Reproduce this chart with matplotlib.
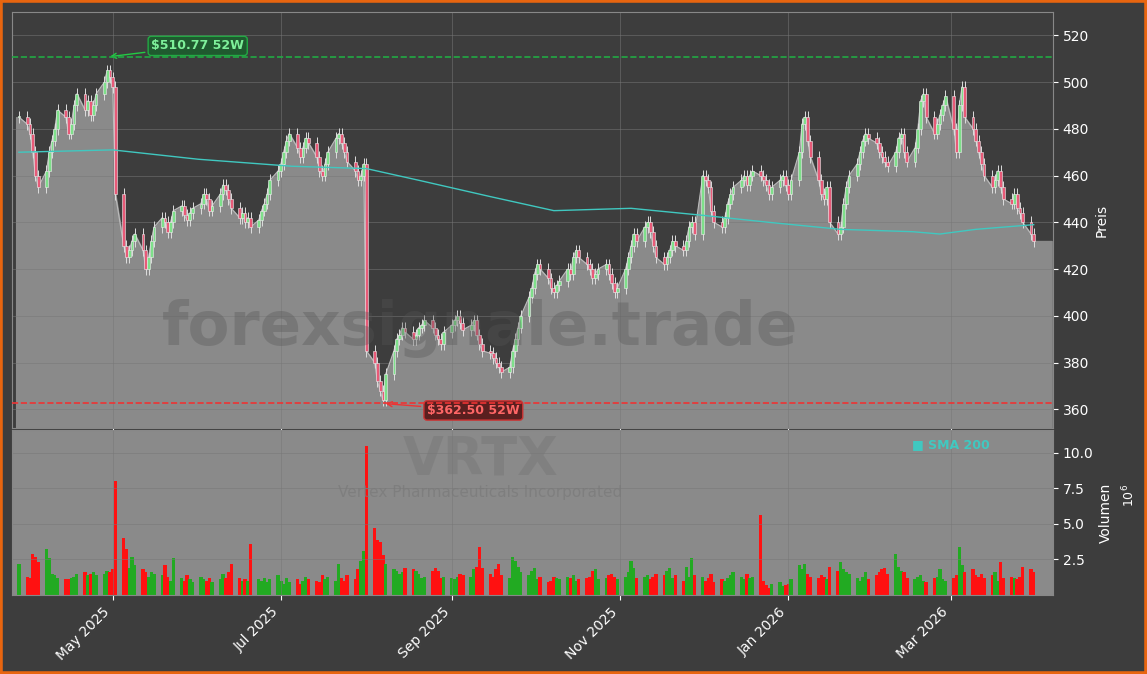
import matplotlib
matplotlib.use("Agg")
import matplotlib.pyplot as plt
import matplotlib.dates as mdates
import numpy as np
import pandas as pd

closes = [485,482,
 478,470,460,455,462,470,475,480,488,485,478,482,490,495,488,492,486,490,495,500,505,502,
 498,452,430,425,428,432,435,428,420,425,432,438,442,440,436,440,445,447,443,441,444,446,
 448,452,450,445,447,452,456,454,450,446,442,444,440,442,438,441,445,448,452,458,462,
 465,470,475,478,472,468,472,476,474,468,462,460,465,470,476,478,474,470,466,462,458,460,465,
 385,380,372,368,364,375,385,390,392,395,393,390,392,395,396,398,395,392,390,388,393,
 396,398,400,397,394,396,398,392,388,385,384,382,380,378,376,378,385,390,395,400,408,412,
 418,422,420,416,412,410,413,415,420,418,425,428,425,422,420,416,418,420,422,418,414,410,412,
 420,425,430,435,432,438,440,436,430,425,422,425,428,432,430,428,432,438,440,435,
 460,458,455,445,440,438,442,448,452,455,458,460,456,460,462,460,458,456,452,455,458,460,456,
 452,458,470,482,485,475,468,458,452,450,455,440,435,438,448,455,460,465,470,475,478,476,
 474,470,468,466,464,470,476,478,470,466,472,480,492,495,485,478,482,486,490,494,
 480,470,490,498,485,480,475,470,465,460,455,458,462,455,450,448,452,446,444,440,435,432]

volumes = [2.2,1.3,
 1.2,2.9,2.7,2.3,3.2,2.6,1.5,1.4,1.2,1.1,1.1,1.2,1.3,1.5,1.6,1.4,1.5,1.6,1.4,1.5,1.7,1.6,
 1.8,8.0,4.0,3.2,1.9,2.7,2.1,1.8,1.6,1.3,1.6,1.5,1.4,2.1,1.3,1.0,2.6,1.2,1.0,1.4,1.1,0.9,
 1.3,1.1,1.0,1.2,0.9,1.1,1.5,1.2,1.6,2.2,1.2,1.0,1.1,1.0,3.6,1.1,1.0,1.2,0.9,1.1,1.4,
 1.0,0.8,1.2,0.9,1.1,0.8,1.0,1.3,1.1,1.0,0.9,1.4,1.1,1.3,1.0,2.2,1.2,1.0,1.4,1.1,1.8,2.4,3.1,
 10.5,4.7,3.9,3.7,2.8,2.2,1.8,1.7,1.5,1.6,1.9,1.8,1.7,1.5,1.2,1.3,1.7,1.9,1.7,1.2,1.3,
 1.2,1.1,1.3,1.5,1.4,1.3,1.8,2.0,3.4,1.9,1.5,1.3,1.8,2.2,1.4,1.2,2.7,2.4,2.0,1.6,1.4,1.7,
 1.9,1.1,1.3,0.9,1.0,1.3,1.2,1.1,1.3,1.2,1.4,1.0,1.1,1.2,1.3,1.7,1.8,1.1,1.2,1.4,1.5,1.3,1.1,
 1.3,1.6,2.4,1.9,1.2,1.3,1.4,1.1,1.3,1.5,1.4,1.7,1.9,1.2,1.4,1.0,2.0,1.3,2.6,1.4,
 1.3,1.0,1.2,1.5,0.9,1.1,1.0,1.2,1.4,1.6,1.3,1.1,1.5,1.2,1.3,5.6,1.0,0.7,0.5,0.8,0.9,0.6,0.7,
 0.8,1.1,2.1,1.8,2.2,1.5,1.3,1.2,1.4,1.3,1.1,2.0,1.7,2.3,1.8,1.6,1.5,1.2,1.0,1.3,1.6,1.1,
 1.4,1.6,1.8,1.9,1.5,2.9,2.0,1.7,1.6,1.2,1.1,1.3,1.4,1.0,0.9,1.2,1.3,1.8,1.1,1.0,
 1.2,1.4,3.4,2.1,1.6,1.8,1.4,1.3,1.5,1.2,1.4,1.6,1.0,2.3,1.2,1.3,1.2,1.1,1.3,2.0,1.8,1.6]

sma_dates = ["2025-03-28","2025-05-01","2025-06-01","2025-07-05","2025-08-01","2025-08-20",
             "2025-09-15","2025-10-08","2025-11-05","2025-12-01","2025-12-25","2026-01-20",
             "2026-02-15","2026-02-25","2026-03-10","2026-03-31"]
sma_vals = [470,471,467,464,463,458,451,445,446,443,440,437,436,435,437,439]

hi52, lo52 = 510.77, 362.50

dates = pd.bdate_range("2025-03-28", periods=len(closes))
c = np.array(closes, float)
o = np.concatenate([[c[0]], c[:-1]])
up = c >= o
x = mdates.date2num(dates)

BG = "#3d3d3d"
fig = plt.figure(figsize=(11.47, 6.74), dpi=100, facecolor=BG)
fig.patches.append(plt.Rectangle((0, 0), 1, 1, transform=fig.transFigure, fill=False,
                                 edgecolor="#e8650f", linewidth=4))
W, H = 1147, 674
ax = fig.add_axes([12/W, (H-428)/H, 1041/W, 416/H], facecolor=BG)
av = fig.add_axes([12/W, (H-595)/H, 1041/W, 165/H], facecolor="#8a8a8a", sharex=ax)

xstart = mdates.date2num(pd.Timestamp("2025-03-27"))
xend = mdates.date2num(pd.Timestamp("2026-04-07"))
ax.fill_between(np.concatenate([[xstart], x, [x[-1]+2, xend-0.5]]),
                np.concatenate([[c[0]], c, [c[-1], c[-1]]]), 352,
                color="#8a8a8a", zorder=1)
ax.plot(x, c, color="#bbbbbb", lw=0.8, zorder=2)
for xi, oi, ci, u in zip(x, o, c, up):
    col = "#7ee08a" if u else "#e85a78"
    lo, hi = min(oi, ci), max(oi, ci)
    ax.vlines(xi, lo-2.5, hi+2.5, color="#dddddd", lw=0.7, zorder=3)
    ax.bar(xi, max(hi-lo, 0.6), bottom=lo, width=1.0, color=col, edgecolor="#eeeeee",
           lw=0.4, zorder=4)
ax.plot(mdates.date2num(pd.to_datetime(sma_dates)), sma_vals, color="#40c8c0", lw=1, zorder=5)
ax.axhline(hi52, color="#22aa44", ls="--", lw=1.2, zorder=5)
ax.axhline(lo52, color="#ee3333", ls="--", lw=1.2, zorder=5)
ihi = int(np.argmax(c)); ilo = int(np.argmin(c))
ax.annotate(f"${hi52:.2f} 52W", xy=(x[ihi], hi52), xytext=(x[ihi]+16, 514),
            color="#7ef09a", fontsize=9, fontweight="bold",
            bbox=dict(boxstyle="round,pad=0.25", fc="#1f5a2f", ec="#22aa44"),
            arrowprops=dict(arrowstyle="->", color="#22cc44"))
ax.annotate(f"${lo52:.2f} 52W", xy=(x[ilo], lo52), xytext=(x[ilo]+16, 358),
            color="#ff6666", fontsize=9, fontweight="bold",
            bbox=dict(boxstyle="round,pad=0.25", fc="#5a1f1f", ec="#cc3333"),
            arrowprops=dict(arrowstyle="->", color="#ee3333"))
ax.set_ylim(352, 530)
ax.set_xlim(xstart - 1.5, xend)
ax.text(0.45, 0.24, "forexsignale.trade", transform=ax.transAxes, ha="center", va="center",
        fontsize=44, fontweight="bold", color="#555555", alpha=0.35, zorder=6)

vc = ["#22aa22" if u else "#ff1111" for u in up]
av.bar(x, volumes, width=1.2, color=vc)
av.set_ylim(0, 11.6)
av.text(0.45, 0.82, "VRTX", transform=av.transAxes, ha="center", va="center",
        fontsize=38, fontweight="bold", color="#777777", alpha=0.5)
av.text(0.45, 0.62, "Vertex Pharmaceuticals Incorporated", transform=av.transAxes,
        ha="center", va="center", fontsize=11, color="#7a7a7a", alpha=0.7)
av.text(0.865, 0.95, "■ SMA 200", transform=av.transAxes, color="#40c8c0", fontsize=9,
        fontweight="bold", va="top")

for a in (ax, av):
    a.yaxis.tick_right(); a.yaxis.set_label_position("right")
    a.grid(True, color="#777777", lw=0.6, alpha=0.6)
    a.tick_params(colors="white", labelsize=10)
    for s in a.spines.values():
        s.set_color("#888888")
ax.set_ylabel("Preis", color="white")
av.set_ylabel("Volumen", color="white")
av.set_yticks([2.5, 5, 7.5, 10])
av.set_yticklabels(["2.5", "5.0", "7.5", "10.0"])
av.text(1.065, 0.55, r"$10^6$", transform=av.transAxes, color="white", rotation=90, fontsize=9)
plt.setp(ax.get_xticklabels(), visible=False)
av.xaxis.set_major_locator(mdates.MonthLocator(bymonth=[1, 3, 5, 7, 9, 11]))
av.xaxis.set_major_formatter(mdates.DateFormatter("%b %Y"))
plt.setp(av.get_xticklabels(), rotation=45, ha="right")
fig.savefig("out.png", dpi=100, facecolor=BG)
